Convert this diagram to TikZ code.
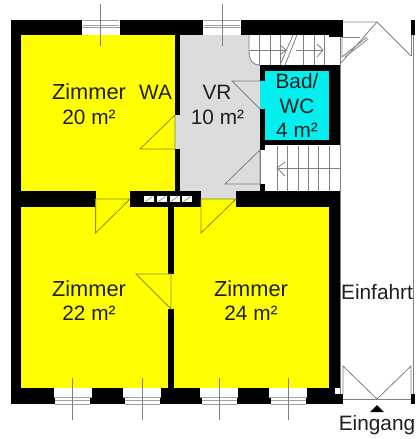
\documentclass[tikz,border=0pt]{standalone}
\usepackage{fontspec}
\setmainfont{Liberation Sans}
\definecolor{roomyellow}{HTML}{FFFF00}
\definecolor{roomgray}{HTML}{DCDCDC}
\definecolor{roomcyan}{HTML}{00F0F0}
\definecolor{plainline}{HTML}{808080}
\definecolor{oliveline}{HTML}{8C8C14}
\definecolor{winline}{HTML}{A0A0A0}
\tikzset{
  wall/.style={fill=black,draw=none},
  plan/.style={draw=plainline,line width=0.8pt},
  planolive/.style={draw=oliveline,line width=0.8pt},
  winfill/.style={fill=white,draw=none},
  winbar/.style={draw=winline,line width=1pt},
  winaxis/.style={draw=plainline,line width=0.8pt},
  lbl/.style={anchor=base,inner sep=0pt,outer sep=0pt,font=\fontsize{20.8}{24}\selectfont,text=black!88},
  lblroom/.style={lbl,font=\fontsize{21.8}{24}\selectfont},
  flue/.style={fill=white,draw=none},
}
% top window: #1 centre
\newcommand{\topwin}[1]{%
  \fill[winfill] (#1-19,19.5) rectangle (#1+19,35);
  \draw[winbar] (#1-18,20) -- (#1+18,20);
  \draw[winbar] (#1-18,25) -- (#1+18,25);
  \draw[winbar] (#1-19,27) -- (#1+19,27);
  \draw[winaxis] (#1,4) -- (#1,46);
}
% bottom window: #1 centre
\newcommand{\botwin}[1]{%
  \fill[winfill] (#1-19,388) rectangle (#1+19,397);
  \fill[winfill] (#1-17.5,397) rectangle (#1+17.5,404);
  \draw[winbar] (#1-19,397) -- (#1+19,397);
  \draw[winbar] (#1-17.5,400) -- (#1+17.5,400);
  \draw[winbar] (#1-17.5,404) -- (#1+17.5,404);
  \draw[winaxis] (#1,378) -- (#1,420);
}
\newcommand{\fluebox}[1]{%
  \fill[flue] (#1,196) rectangle (#1+10,202);
  \draw[draw=plainline,line width=0.6pt] (#1+1.5,201.5) -- (#1+8.5,196.5);
}
\begin{document}
\begin{tikzpicture}[x=1pt,y=-1pt]
\useasboundingbox (0,0) rectangle (415,439);
\fill[white] (0,0) rectangle (415,439);
\clip (0,0) rectangle (415,439);
% room fills
\fill[roomyellow] (21,35) rectangle (175,207);
\fill[roomyellow] (21,207) rectangle (329,388);
\fill[roomyellow] (201,199) rectangle (236,207);
\fill[roomgray] (175,35) -- (249,35) -- (249,50) .. controls (249,60) and (252,65) .. (260,65) -- (260,199) -- (175,199) -- cycle;
\fill[roomcyan] (260,81) rectangle (265,109);
\fill[roomcyan] (265,71) rectangle (329,140);
% walls
\fill[wall] (10.5,19.5) rectangle (343,35);
\fill[wall] (329,35) rectangle (343,37);
\fill[wall] (411,19.5) rectangle (415,35);
\fill[wall] (10.5,19.5) rectangle (21,404);
\fill[wall] (10.5,388) rectangle (335,404);
\fill[wall] (334,394) rectangle (343,404);
\fill[wall] (411,394) rectangle (415,404);
\fill[wall] (175,35) rectangle (180,115);
\fill[wall] (175,149) rectangle (180,191);
\fill[wall] (21,191) rectangle (95.6,207);
\fill[wall] (130,191) rectangle (201,207);
\fill[wall] (236,191) rectangle (340,207);
\fill[wall] (168,207) rectangle (173.7,274);
\fill[wall] (168,309) rectangle (173.7,388);
\fill[wall] (329,191) rectangle (340,388);
% bath walls
\fill[wall] (260,65) rectangle (340,71);
\fill[wall] (329,65) rectangle (340,145);
\fill[wall] (260,140) rectangle (340,145);
\fill[wall] (260,65) rectangle (265,81);
\fill[wall] (260,109) rectangle (265,150);
\fill[wall] (260,184) rectangle (265,191);
% windows
\topwin{100.7}
\topwin{222}
\botwin{72.7}
\botwin{142}
\botwin{219}
\botwin{288}
% flue openings
\fluebox{144}
\fluebox{157}
\fluebox{169.5}
\fluebox{182}
% doors of the rooms
\draw[planolive] (175,115) -- (140,149) -- (175,149) -- cycle;
\draw[planolive] (130,199) -- (95.6,199) -- (95.6,233) -- cycle;
\draw[planolive] (236,199) -- (201,199) -- (201,233) -- cycle;
\draw[planolive] (171,309) -- (136,274) -- (171,274) -- cycle;
\draw[plan] (260,109) -- (232,81) -- (260,81);
\draw[plan] (260,150) -- (225,184) -- (260,184) -- cycle;
% upper stairs
\draw[plan] (249,35) -- (249,50) .. controls (249,60) and (252,65) .. (260,65);
\foreach \sx in {259,270,280,303,314,324} \draw[plan] (\sx,35) -- (\sx,65);
\draw[plan] (249,50) -- (286,50);
\draw[plan] (280,45) -- (286,50) -- (280,55);
\draw[plan] (296,50) -- (323,50);
\draw[plan] (317,44) -- (323,50) -- (317,57);
\fill[white] (281,65) -- (293,35) -- (297,35) -- (285,65) -- cycle;
\draw[plan] (280,65) -- (293,35);
\draw[plan] (285,65) -- (297,35);
% outer door and carriageway
\draw[plan] (343,22) -- (377,22) -- (411,56);
\draw[plan] (377,22) -- (340,64);
\draw[plan] (340,37) -- (340,65);
\draw[plan] (342,37) -- (342,57) -- (367,37);
\draw[plan] (345,57) -- (368,39);
\draw[plan] (342,37) -- (360,37);
\draw[plan] (411,35) -- (411,56);
\draw[plan] (413.7,35) -- (413.7,394);
\draw[plan] (340.5,65) -- (340.5,394);
\draw[plan] (343,399) -- (411,399);
\draw[plan] (343,394) -- (343,366) -- (377,399) -- (411,366) -- (411,394);
% lower stairs
\draw[plan] (260,150) -- (260,184);
\foreach \sx in {277,287,298,308,318,329} \draw[plan] (\sx,145.7) -- (\sx,191);
\draw[plan] (277,168) -- (340,168);
\draw[plan] (285,162) -- (277,168) -- (285,176);
% entrance mark
\fill[black] (370,412) -- (377,405) -- (384,412) -- cycle;
% labels
\node[lblroom] (z1a) at (89,99) {Zimmer};
\node[lbl] (z1b) at (89,124) {20 m²};
\node[lbl] (wa) at (155.5,99) {WA};
\node[lbl] (vra) at (217,99) {VR};
\node[lbl] (vrb) at (217.5,124) {10 m²};
\node[lbl] (bada) at (297,88) {Bad/};
\node[lbl] (badb) at (297,113) {WC};
\node[lbl] (badc) at (297,137) {4 m²};
\node[lblroom] (z2a) at (89,296) {Zimmer};
\node[lbl] (z2b) at (89,320) {22 m²};
\node[lblroom] (z3a) at (251,296) {Zimmer};
\node[lbl] (z3b) at (251,320) {24 m²};
\node[lbl] (einf) at (377,299) {Einfahrt};
\node[lbl] (eing) at (377,430) {Eingang};
\end{tikzpicture}
\end{document}
